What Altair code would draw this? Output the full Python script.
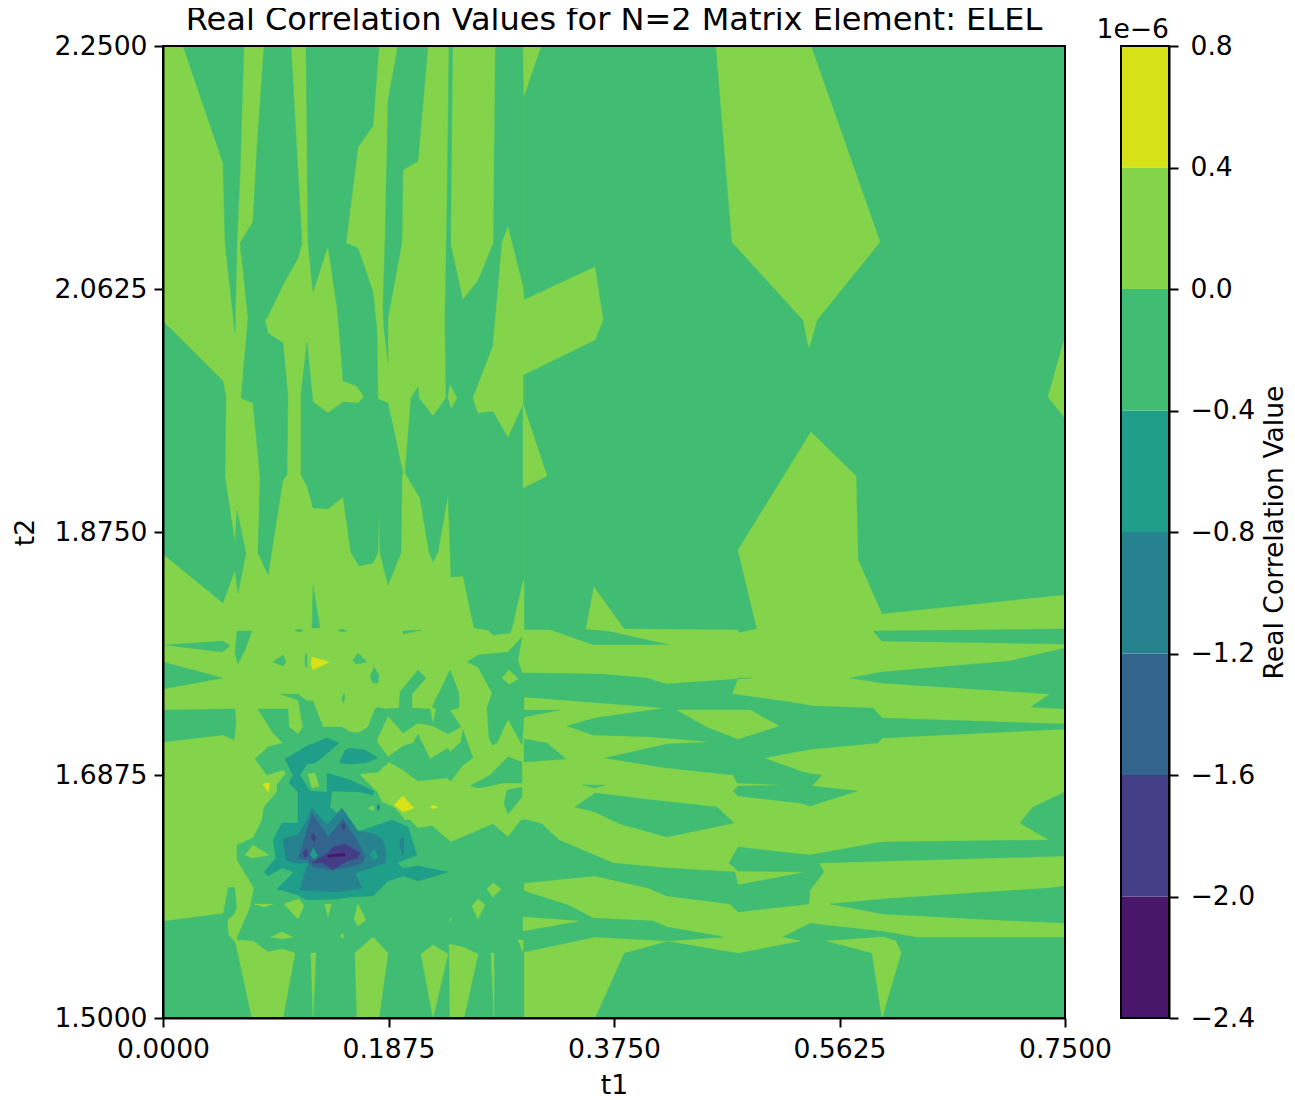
import altair as alt

TITLE = "Real Correlation Values for N=2 Matrix Element: ELEL"
T1_TICKS = [0.0, 0.1875, 0.375, 0.5625, 0.75]
T2_TICKS = [1.5, 1.6875, 1.875, 2.0625, 2.25]
LEVELS = [-2.4, -2.0, -1.6, -1.2, -0.8, -0.4, 0.0, 0.4, 0.8]
BAND_COLORS = ["#481769", "#433e85", "#32648e", "#26828e", "#1f9e89", "#40bd72", "#84d44b", "#d8e219"]
C48, C43, C32, C26, C1F, CGR, CLG, CYE = BAND_COLORS

# Outlines of the filled contour regions
# (u along t1: 163 -> 0.0, 1065 -> 0.75; v along t2: 1018 -> 1.5, 46 -> 2.25)
BACKGROUND = [(163, 46), (1065, 46), (1065, 1018), (163, 1018)]

LIGHT_BASE = [
    [(163,46),(524,46),(524,950),(240,950),(235,942),(229,935),(228,927),(228,920),(234,915),(237,907),(235,887),(228,887),(223,913),(163,921)],
    [(524,630),(550,630),(593,645),(672,645),(609,631),(586,629),(594,587),(624,629),(738,630),(738,633),(757,629),(738,550),(811,432),(856,476),(858,560),(882,614),(1065,595),(1065,937),(917,937),(883,931),(810,923),(782,937),(800,941),(738,953),(668,941),(624,953),(595,1018),(524,1018)],
    [(716,46),(811,46),(880,242),(817,320),(809,348),(803,320),(732,242)],
    [(1065,337),(1048,397),(1065,418)],
]

GREEN_OVER = [
    [(183,46),(244,46),(240,173),(237,243),(235,333),(225,243),(223,163)],
    [(163,322),(172,330),(223,381),(226,397),(225,477),(235,543),(237,510),(246,553),(238,593),(235,570),(223,603),(163,554)],
    [(264,46),(291,46),(302,243),(298,258),(283,285),(267,318),(265,320),(268,333),(283,343),(288,397),(287,475),(283,480),(268,575),(258,553),(260,477),(253,403),(241,398),(247,330),(248,317),(240,243),(253,222),(257,147)],
    [(306,46),(308,243),(313,292),(328,246),(337,307),(340,340),(343,381),(357,386),(364,397),(358,403),(343,402),(328,413),(313,402),(307,342),(301,393),(301,475),(307,486),(313,508),(328,509),(343,497),(351,553),(359,566),(373,563),(378,552),(379,508),(380,553),(388,585),(401,553),(402,475),(403,473),(388,403),(378,399),(377,330),(373,292),(358,248),(346,243),(358,147),(373,126),(379,46)],
    [(398,46),(388,100),(385,240),(383,307),(384,330),(388,362),(388,318),(402,242),(403,170),(418,161),(428,46)],
    [(449,46),(447,207),(445,313),(445,330),(446,398),(433,416),(419,398),(418,387),(411,398),(405,473),(420,498),(429,552),(433,562),(438,552),(448,495),(451,577),(463,576),(474,628),(488,630),(493,635),(510,633),(512,628),(523,580),(524,580),(524,46)],
    [(313,585),(320,628),(312,628)],
    [(165,645),(223,641),(230,646),(222,652)],
    [(237,631),(252,631),(245,650),(238,664),(235,653)],
    [(163,662),(223,678),(163,689)],
    [(163,710),(235,709),(236,723),(234,740),(223,735),(163,742)],
    [(273,662),(283,655),(286,662),(283,666)],
    [(305,655),(307,654),(307,668),(305,665)],
    [(295,630),(300,629),(303,631),(298,632)],
    [(338,630),(342,629),(347,631),(342,632)],
    [(353,660),(358,653),(367,662),(356,664)],
    [(370,677),(374,667),(379,675),(378,683),(373,683)],
    [(342,698),(344,693),(345,698),(343,703)],
    [(403,631),(422,630),(403,634)],
    [(467,662),(478,655),(508,652),(522,637),(518,660),(522,673),(524,673),(524,717),(522,745),(508,719),(497,743),(492,745),(489,738),(487,708),(492,693),(478,667)],
    [(470,786),(490,775),(508,757),(522,762),(522,783),(503,783),(485,787),(478,788)],
    [(507,790),(522,787),(522,797),(508,814),(504,803)],
    [(258,709),(288,709),(289,727),(298,734),(303,727),(298,700),(280,694),(298,694),(307,701),(313,701),(323,727),(342,727),(350,732),(358,733),(368,727),(375,709),(378,707),(385,709),(399,708),(400,692),(418,670),(426,678),(412,694),(412,708),(430,709),(433,724),(436,709),(432,707),(450,670),(459,693),(459,708),(450,710),(461,727),(448,734),(433,726),(418,723),(403,733),(388,716),(378,737),(377,742),(388,757),(403,746),(413,743),(418,734),(430,759),(448,748),(450,752),(461,742),(463,730),(473,758),(463,765),(451,781),(447,778),(418,781),(403,770),(389,762),(378,772),(359,774),(377,792),(382,802),(395,808),(405,820),(410,820),(418,828),(432,826),(451,842),(493,824),(508,837),(521,820),(524,820),(524,1018),(237,1018),(237,938),(250,908),(254,888),(237,860),(237,845),(253,838),(262,820),(264,807),(277,792),(277,785),(286,773),(283,770),(267,775),(255,759),(268,747),(283,743),(273,733)],
    [(524,952),(595,937),(668,941),(724,937),(667,927),(653,921),(593,918),(568,905),(524,891)],
    [(1065,792),(1033,807),(1020,823),(1049,840),(882,842),(810,855),(800,854),(738,847),(729,863),(738,871),(806,872),(738,885),(735,872),(667,868),(613,863),(559,840),(542,824),(524,819),(524,883),(595,876),(648,888),(667,896),(730,904),(738,912),(800,905),(809,904),(810,890),(824,872),(819,863),(1065,856)],
    [(830,904),(883,899),(1050,888),(1065,886),(1065,923),(997,920),(883,914)],
    [(524,673),(600,674),(647,678),(666,684),(752,678),(738,678),(732,694),(790,702),(813,706),(873,708),(882,718),(1065,724),(1065,729),(882,738),(878,743),(813,749),(790,753),(764,758),(800,771),(812,774),(822,775),(812,786),(857,791),(810,806),(800,803),(738,796),(733,791),(738,786),(787,785),(737,783),(733,775),(667,768),(605,758),(667,744),(712,742),(653,737),(593,735),(567,726),(595,718),(665,708),(524,697)],
    [(524,710),(560,710),(524,717)],
    [(524,739),(547,743),(566,759),(524,762)],
    [(583,785),(605,785),(595,788)],
    [(575,807),(595,793),(653,800),(717,807),(734,823),(667,837),(620,824),(595,812)],
    [(873,631),(1065,629),(1065,644),(882,641)],
    [(850,678),(882,672),(1010,661),(1065,648),(1065,709),(1031,707),(1050,694),(882,683)],
]

LIGHT_OVER = [
    [(453,46),(495,46),(493,243),(478,280),(463,299),(451,244)],
    [(523,46),(541,46),(524,96)],
    [(508,227),(502,243),(493,346),(473,398),(478,413),(493,411),(508,437),(523,404),(523,375),(595,340),(603,320),(595,267),(524,300),(523,287)],
    [(523,404),(547,476),(523,488)],
    [(450,385),(457,398),(451,408),(448,397)],
    [(509,670),(518,679),(509,684),(502,678)],
    [(308,774),(315,773),(319,786),(312,788)],
    [(677,710),(750,710),(779,726),(738,739),(707,727)],
    [(235,940),(252,1018),(283,1018),(295,953),(282,949),(268,952),(253,941)],
    [(245,855),(253,845),(269,855),(252,858)],
    [(254,904),(273,904),(264,907)],
    [(284,904),(299,899),(304,906),(298,919)],
    [(271,937),(282,932),(293,937),(282,939)],
    [(325,904),(331,904),(328,917)],
    [(358,904),(366,920),(358,926),(354,919)],
    [(340,936),(343,934),(344,937),(342,938)],
    [(311,953),(316,953),(313,1018)],
    [(355,953),(373,937),(388,953),(379,1018),(357,1018)],
    [(421,954),(433,945),(448,954),(433,1018)],
    [(449,944),(463,947),(478,954),(464,1018),(450,1018)],
    [(491,953),(494,953),(494,1018)],
    [(518,940),(523,940),(523,952)],
    [(487,889),(493,883),(501,889),(493,897)],
    [(472,906),(478,899),(485,905),(478,919)],
    [(450,917),(451,919),(450,921)],
    [(523,917),(579,921),(523,931)],
    [(827,941),(883,937),(896,941),(901,953),(882,1018),(872,953)],
    [(368,808),(373,806),(374,811)],
]

TEAL = [
    [(285,759),(307,746),(327,738),(339,743),(323,757),(315,763),(307,764),(300,775),(310,791),(327,792),(327,773),(350,780),(374,791),(373,795),(360,792),(332,791),(330,807),(357,832),(392,820),(408,827),(417,855),(397,863),(403,868),(418,866),(448,872),(418,881),(403,876),(388,881),(373,896),(350,897),(337,899),(307,900),(298,895),(277,889),(294,872),(282,868),(268,876),(264,872),(276,858),(273,840),(282,823),(298,823),(298,792),(289,783),(293,775)],
    [(340,762),(345,750),(350,748),(365,750),(378,758),(365,763),(350,764),(340,763)],
]
BLUE_TEAL = [
    [(283,839),(298,835),(306,822),(312,808),(327,825),(342,808),(358,831),(374,834),(383,840),(386,853),(385,863),(355,873),(362,888),(337,892),(300,890),(308,863),(295,863),(286,860)],
    [(400,840),(403,837),(404,843),(403,855),(400,847)],
    [(378,804),(380,807),(378,811),(377,807)],
]
BLUE = [
    [(302,848),(312,813),(328,837),(343,819),(350,830),(358,842),(365,857),(362,863),(350,867),(330,870),(313,867),(307,860),(298,858)],
]
INDIGO = [
    [(312,863),(328,853),(333,847),(345,844),(360,853),(358,858),(347,861),(333,870),(323,863)],
    [(311,838),(313,833),(316,838),(314,842)],
    [(303,853),(306,849),(308,855),(305,858)],
    [(342,825),(344,823),(345,828),(343,830)],
]
PURPLE = [[(328,855),(345,853),(345,856),(328,857)]]
TEAL_HOLES = [
    [(310,855),(313,848),(318,856),(314,859)],
    [(370,855),(374,849),(378,857),(374,860)],
]
YELLOW = [
    [(312,657),(329,662),(313,670),(311,664)],
    [(263,784),(270,783),(268,792)],
    [(394,805),(403,796),(414,808),(403,812)],
    [(430,807),(433,805),(438,807),(433,809)],
]

PAINT_ORDER = [
    (CGR, [BACKGROUND]), (CLG, LIGHT_BASE), (CGR, GREEN_OVER), (CLG, LIGHT_OVER),
    (C1F, TEAL), (C26, BLUE_TEAL), (C32, BLUE), (C43, INDIGO), (C48, PURPLE), (C1F, TEAL_HOLES), (CYE, YELLOW),
]

FONT = "DejaVu Sans"
LABEL_SIZE = 26.6
x_scale = alt.Scale(domain=[0, 0.75], nice=False, zero=False)
y_scale = alt.Scale(domain=[1.5, 2.25], nice=False, zero=False)
bar_scale = alt.Scale(domain=[-2.4, 0.8], nice=False, zero=False)


def to_t1(u):
    return (u - 163) / 902 * 0.75


def to_t2(v):
    return 1.5 + (1018 - v) / 972 * 0.75


def axis(title, ticks, **kw):
    return alt.Axis(title=title, values=ticks, format=".4f", grid=False, tickSize=9, tickWidth=2, tickColor="black",
                    domainColor="black", domainWidth=2, labelFont=FONT, labelFontSize=LABEL_SIZE, labelColor="black",
                    titleFont=FONT, titleFontSize=LABEL_SIZE, titleFontWeight="normal", titleColor="black",
                    labelFlush=False, labelOverlap=False, zindex=1, **kw)


layers = []
for level, (color, polys) in enumerate(PAINT_ORDER):
    rows = []
    for p, poly in enumerate(polys):
        for i, (u, v) in enumerate(list(poly) + [poly[0]]):
            rows.append({"t1": to_t1(u), "t2": to_t2(v), "poly": f"{level}-{p}", "i": i})
    layers.append(
        alt.Chart(alt.Data(values=rows))
        .mark_line(fill=color, stroke=color, strokeWidth=0.4, interpolate="linear")
        .encode(
            x=alt.X("t1:Q", scale=x_scale, axis=axis("t1", T1_TICKS, labelPadding=9, titlePadding=10)),
            y=alt.Y("t2:Q", scale=y_scale, axis=axis("t2", T2_TICKS, labelPadding=7, titlePadding=14, titleAngle=270)),
            detail="poly:N",
            order="i:Q",
        )
    )

frame = alt.Chart(alt.Data(values=[{"a": 0.0, "b": 0.75, "c": 1.5, "d": 2.25}])).mark_rect(
    filled=False, stroke="black", strokeWidth=2
).encode(
    x=alt.X("a:Q", scale=x_scale), x2="b:Q",
    y=alt.Y("c:Q", scale=y_scale), y2="d:Q",
)

main = alt.layer(*layers, frame).properties(
    width=902, height=972,
    title=alt.TitleParams(TITLE, font=FONT, fontSize=32, fontWeight="normal", color="black", offset=-4, anchor="middle"),
)

bands = [{"lo": LEVELS[i], "hi": LEVELS[i + 1], "c": BAND_COLORS[i]} for i in range(8)]
bar_rects = (
    alt.Chart(alt.Data(values=bands))
    .mark_rect()
    .encode(
        y=alt.Y("lo:Q", scale=bar_scale,
                axis=alt.Axis(orient="right", title="Real Correlation Value", values=LEVELS, grid=False, tickSize=9,
                              tickWidth=2, tickColor="black", domainColor="black", domainWidth=2, labelFont=FONT,
                              labelFontSize=LABEL_SIZE, labelColor="black", labelPadding=12, titleFont=FONT,
                              titleFontSize=LABEL_SIZE, titleFontWeight="normal", titleColor="black", titleAngle=270,
                              titleBaseline="top", titlePadding=7, labelOverlap=False, labelFlush=False, zindex=1,
                              labelExpr="replace(format(datum.value,'.1f'),'-','\u2212')")),
        y2="hi:Q",
        color=alt.Color("c:N", scale=None, legend=None),
    )
)
bar_frame = alt.Chart(alt.Data(values=[{"lo": LEVELS[0], "hi": LEVELS[-1]}])).mark_rect(
    filled=False, stroke="black", strokeWidth=2
).encode(y=alt.Y("lo:Q", scale=bar_scale), y2="hi:Q")

bar = alt.layer(bar_rects, bar_frame).properties(
    width=48, height=972,
    title=alt.TitleParams("1e\u22126", font=FONT, fontSize=LABEL_SIZE, fontWeight="normal", color="black",
                          anchor="end", frame="group", offset=-11),
)

chart = (
    alt.hconcat(main, bar, spacing=56, bounds="flush")
    .configure_view(stroke="black", strokeWidth=2)
    .properties(padding={"left": 3, "top": -5, "right": -4, "bottom": -3}, background="white")
)
chart.save("out.html", embed_options={"renderer": "svg", "actions": False})
